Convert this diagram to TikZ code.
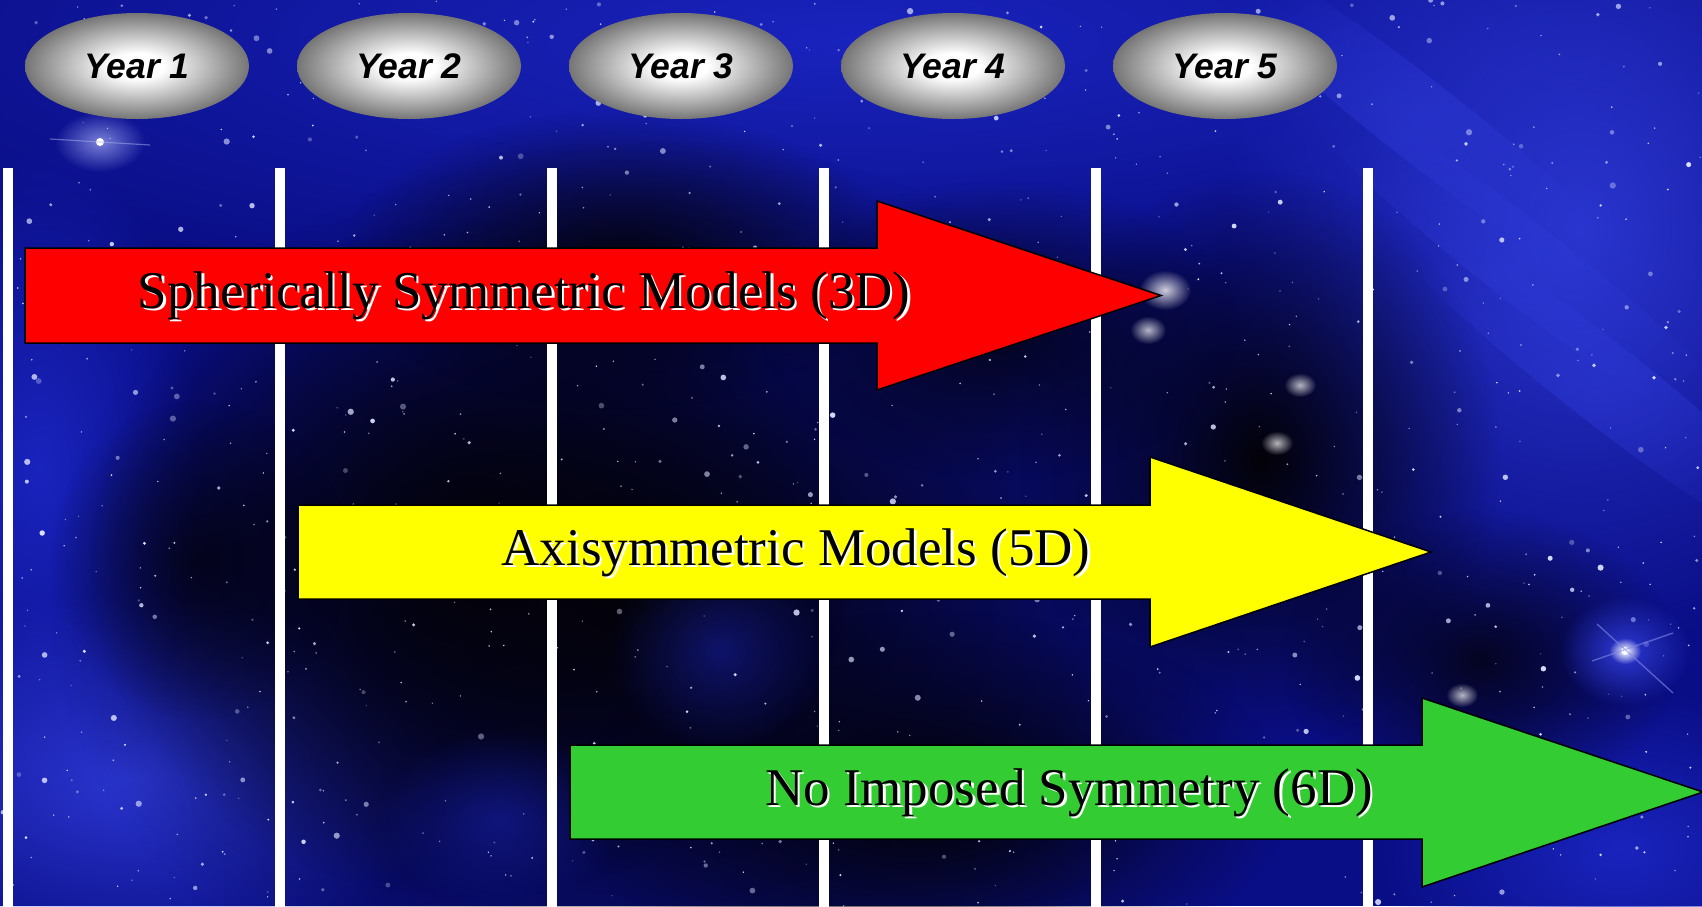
\documentclass[tikz,border=0pt]{standalone}
\usepackage{fontspec}
\setmainfont{Liberation Serif}
\newfontfamily\yearfont{Liberation Sans}
\usetikzlibrary{shapes.geometric,fadings}
\tikzfading[name=glowfade, inner color=transparent!0, outer color=transparent!100]
\pgfdeclareradialshading{yearshade}{\pgfpoint{0bp}{0bp}}{color(0bp)=(white); color(6bp)=(white); color(25bp)=(gray!92!black); color(50bp)=(gray!92!black)}
\definecolor{skybase}{HTML}{0A0E86}
\definecolor{skyglow}{HTML}{1A24BE}
\definecolor{skybright}{HTML}{2E3AD8}
\definecolor{skydark}{HTML}{030208}
\definecolor{starcol}{HTML}{DCE2FF}
\definecolor{arrred}{HTML}{FF0000}
\definecolor{arryellow}{HTML}{FFFF00}
\definecolor{arrgreen}{HTML}{33CC33}
\newcommand\shtext[1]{\rlap{\kern2.5pt\raisebox{-2.5pt}{\color{white}#1}}#1}
\tikzset{
  glow/.style={path fading=glowfade},
  yearnode/.style={ellipse, shade, shading=yearshade, draw=none, minimum width=224pt, minimum height=106pt, inner sep=0pt,
    font=\yearfont\bfseries\itshape\fontsize{35.5}{40}\selectfont},
  yearline/.style={white, line width=10pt},
  bigarrow/.style={draw=black, line width=1.5pt, line join=miter},
  arrtext/.style={inner sep=0pt, font=\fontsize{53}{60}\selectfont, text=black}
}
\begin{document}
\begin{tikzpicture}[x=1pt,y=-1pt]
\useasboundingbox (0,0) rectangle (1702,906);
\clip (0,0) rectangle (1702,906);
% sky
\fill[skybase] (0,0) rectangle (1702,906);
\fill[skyglow, glow] (850,40) ellipse (1100 and 260);
\fill[skybright, glow, opacity=0.9] (1580,230) ellipse (360 and 420);
\foreach \sx/\sy in {1420/120,1520/260,1600/380}{
  \fill[skybright, glow, opacity=0.55, rotate around={-38:(\sx,\sy)}] (\sx,\sy) ellipse (300 and 40);
}
\fill[skyglow, glow] (40,470) ellipse (160 and 330);
\fill[skybright, glow, opacity=0.9] (130,780) ellipse (320 and 190);
\fill[skyglow, glow] (1620,850) ellipse (240 and 160);
\fill[skydark, glow] (650,600) ellipse (600 and 460);
\fill[skydark, glow] (470,560) ellipse (380 and 340);
\fill[skydark, glow, opacity=0.9] (620,260) ellipse (280 and 150);
\fill[skydark, glow] (1260,460) ellipse (240 and 290);
\fill[skydark, glow] (930,800) ellipse (360 and 190);
\fill[skydark, glow, opacity=0.8] (1000,330) ellipse (240 and 150);
\fill[skydark, glow, opacity=0.8] (1480,660) ellipse (200 and 150);
\fill[skydark, glow, opacity=0.7] (200,560) ellipse (150 and 160);
\fill[skyglow, glow, opacity=0.5] (720,650) ellipse (110 and 100);
\fill[skyglow, glow, opacity=0.5] (500,820) ellipse (120 and 90);
% stars
\pgfmathsetseed{4242}
\foreach \i in {1,...,950}{
  \pgfmathsetmacro{\sx}{rnd*1702}
  \pgfmathsetmacro{\sy}{rnd*906}
  \pgfmathsetmacro{\sr}{0.8+2.4*pow(rnd,4)}
  \pgfmathsetmacro{\so}{0.3+0.7*rnd}
  \fill[starcol, opacity=\so] (\sx,\sy) circle[radius=\sr];
}
% bright stars
\fill[skybright!50!white, glow, opacity=0.8] (100,142) ellipse (45 and 30);
\fill[white] (100,142) circle[radius=4];
\draw[skybright!40!white, opacity=0.5, line width=1.2pt] (50,139) -- (150,145);
\fill[skybright, glow] (1625,651) ellipse (65 and 55);
\fill[white, glow] (1625,651) ellipse (16 and 13);
\fill[white] (1625,651) circle[radius=4];
\draw[skybright!60!white, opacity=0.6, line width=1.4pt] (1597,624) -- (1673,693) (1592,661) -- (1673,633);
\fill[white, glow, opacity=0.8] (1165,290) ellipse (26 and 20);
\fill[white, glow, opacity=0.7] (1148,330) ellipse (18 and 14);
\fill[white, glow, opacity=0.7] (1300,385) ellipse (16 and 12);
\fill[white, glow, opacity=0.7] (1277,443) ellipse (16 and 12);
\fill[white, glow, opacity=0.7] (1462,695) ellipse (16 and 12);
% year ellipses
\node[yearnode] (y1) at (137,66) {Year 1};
\node[yearnode] (y2) at (409,66) {Year 2};
\node[yearnode] (y3) at (681,66) {Year 3};
\node[yearnode] (y4) at (953,66) {Year 4};
\node[yearnode] (y5) at (1225,66) {Year 5};
% vertical lines
\foreach \xx in {8,280,552,824,1096,1368}{
  \draw[yearline] (\xx,168) -- (\xx,910);
}
% arrows
\filldraw[bigarrow, fill=arrred] (25,248) -- (877,248) -- (877,201) -- (1161,295.5) -- (877,390) -- (877,343) -- (25,343) -- cycle;
\filldraw[bigarrow, fill=arryellow] (298,505) -- (1150,505) -- (1150,457) -- (1431,552) -- (1150,647) -- (1150,599) -- (298,599) -- cycle;
\filldraw[bigarrow, fill=arrgreen] (570,745) -- (1422,745) -- (1422,698) -- (1703,792) -- (1422,887) -- (1422,839) -- (570,839) -- cycle;
\node[arrtext] (t1) at (524,297) {\shtext{Spherically Symmetric Models (3D)}};
\node[arrtext] (t2) at (796,554) {\shtext{Axisymmetric Models (5D)}};
\node[arrtext] (t3) at (1069,794) {\shtext{No Imposed Symmetry (6D)}};
\end{tikzpicture}
\end{document}
